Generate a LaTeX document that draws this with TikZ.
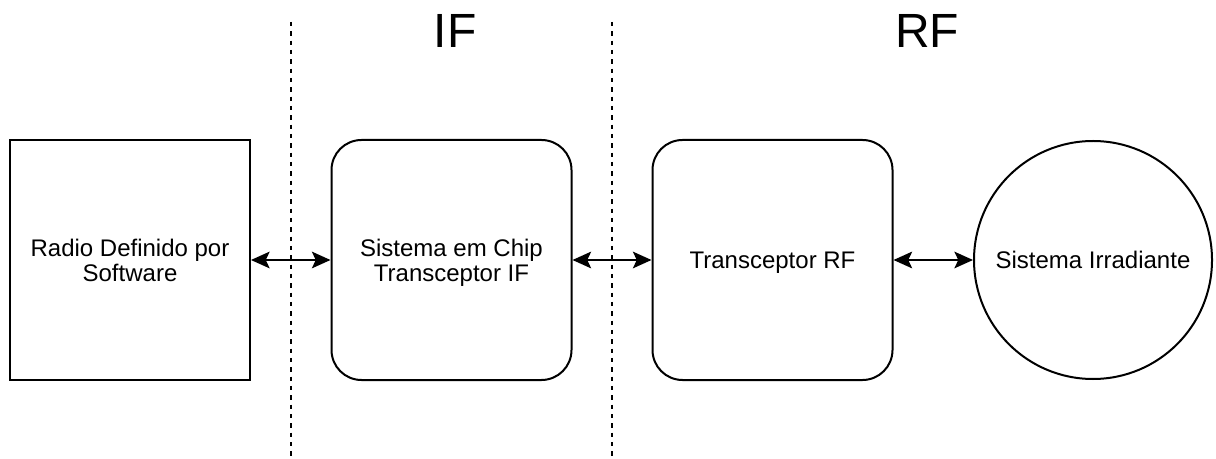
\documentclass[tikz,border=0pt]{standalone}
\usepackage{fontspec}
\setmainfont{Liberation Sans}
\usetikzlibrary{arrows.meta}

\begin{document}
\begin{tikzpicture}[x=0.75pt, y=-0.75pt, line width=1.5pt, font=\fontsize{18}{18.5}\selectfont,
  blockbox/.style={draw, align=center, text depth=0pt, minimum width=180pt, minimum height=180pt, inner sep=0pt},
  link/.style={{Stealth[length=14pt,width=12.5pt,inset=3pt]}-{Stealth[length=14pt,width=12.5pt,inset=3pt]}}]
\useasboundingbox (0,0) rectangle (1216,459);
% separators between the stages
\draw[line width=1.3pt, dash pattern=on 3.2pt off 3.8pt] (291,22) -- (291,459) (612,22) -- (612,459);
\node (iflabel) at (455,31) {\fontsize{36}{36}\selectfont IF};
\node (rflabel) at (927,31) {\fontsize{36}{36}\selectfont RF};
% blocks
\node (sdr) [blockbox] at (130,260) {Radio Definido por\\Software};
\node (soc) [blockbox, rounded corners=22.5pt] at (451.5,260) {Sistema em Chip\\Transceptor IF};
\node (rfxcvr) [blockbox, rounded corners=22.5pt] at (772.5,260) {Transceptor RF};
\node (antenna) [draw, circle, text depth=0pt, minimum size=178.5pt, inner sep=0pt] at (1093,260) {Sistema Irradiante};
\draw[link] (sdr) -- (soc);
\draw[link] (soc) -- (rfxcvr);
\draw[link] (rfxcvr) -- (antenna);
\end{tikzpicture}
\end{document}
